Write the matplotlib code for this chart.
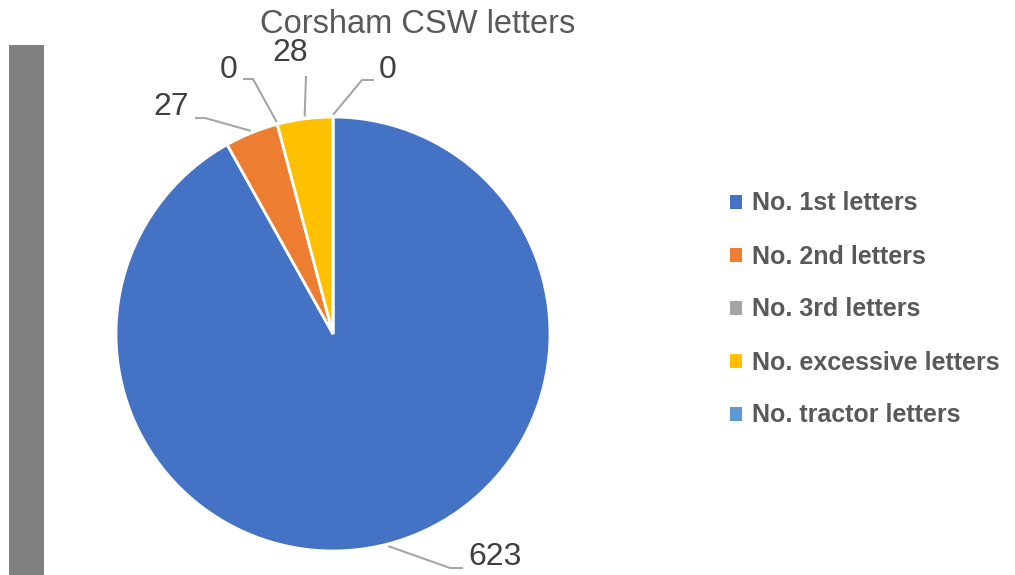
import numpy as np
import matplotlib
matplotlib.use("Agg")
import matplotlib.pyplot as plt
from matplotlib.patches import Rectangle

# data
labels = ["No. 1st letters", "No. 2nd letters", "No. 3rd letters",
          "No. excessive letters", "No. tractor letters"]
values = [623, 27, 0, 28, 0]
colors = ["#4472C4", "#ED7D31", "#A5A5A5", "#FFC000", "#5B9BD5"]
title = "Corsham CSW letters"

# layout in pixels (figure 1015x575)
W, H = 1015, 575
cx, cy, R = 333, 334, 217
# (bend x, bend y, end x, end y, text x, text y, ha) for each label
label_lay = [
    (450, 568, 463, 568, 468, 557, "left"),
    (205, 118, 195, 118, 189, 107, "right"),
    (253, 79, 243, 79, 238, 70, "right"),
    (306, 76, 306, 76, 290, 53, "center"),
    (362, 80, 374, 80, 379, 70, "left"),
]

fig = plt.figure(figsize=(W / 100, H / 100), dpi=100)
fig.patch.set_facecolor("white")

# pie axes
ax = fig.add_axes([(cx - R) / W, (H - cy - R) / H, 2 * R / W, 2 * R / H])
wedges, _ = ax.pie(values, colors=colors, startangle=90, counterclock=False,
                   wedgeprops=dict(edgecolor="white", linewidth=2))
ax.set_xlim(-1, 1)
ax.set_ylim(-1, 1)
ax.axis("off")

# overlay in pixel coords
ov = fig.add_axes([0, 0, 1, 1], zorder=3)
ov.set_xlim(0, W)
ov.set_ylim(H, 0)
ov.axis("off")

# gray bar on the left
ov.add_patch(Rectangle((9, 45), 35, 530, color="#808080", lw=0))

ov.text(418, 33, title, ha="center", va="baseline", fontsize=23.5,
        color="#595959", family="Liberation Sans")

for w, v, lay in zip(wedges, values, label_lay):
    ang = np.deg2rad((w.theta1 + w.theta2) / 2)
    sx = cx + R * 1.01 * np.cos(ang)
    sy = cy - R * 1.01 * np.sin(ang)
    bx, by, ex, ey, tx, ty, ha = lay
    ov.plot([sx, bx, ex], [sy, by, ey], color="#A6A6A6", lw=1.5,
            solid_capstyle="butt")
    ov.text(tx, ty, str(v), ha=ha, va="center", fontsize=23,
            color="#404040", family="Liberation Sans")

leg = fig.legend(wedges, labels, loc="upper left",
                 bbox_to_anchor=(707 / W, 1 - 169 / H), frameon=False,
                 prop=dict(family="Liberation Sans", weight="bold", size=18),
                 labelcolor="#595959", handlelength=0.48, handleheight=0.48,
                 handletextpad=0.4, labelspacing=1.16)
for h in leg.legend_handles:
    h.set_edgecolor("none")

fig.savefig("out.png", dpi=100)
